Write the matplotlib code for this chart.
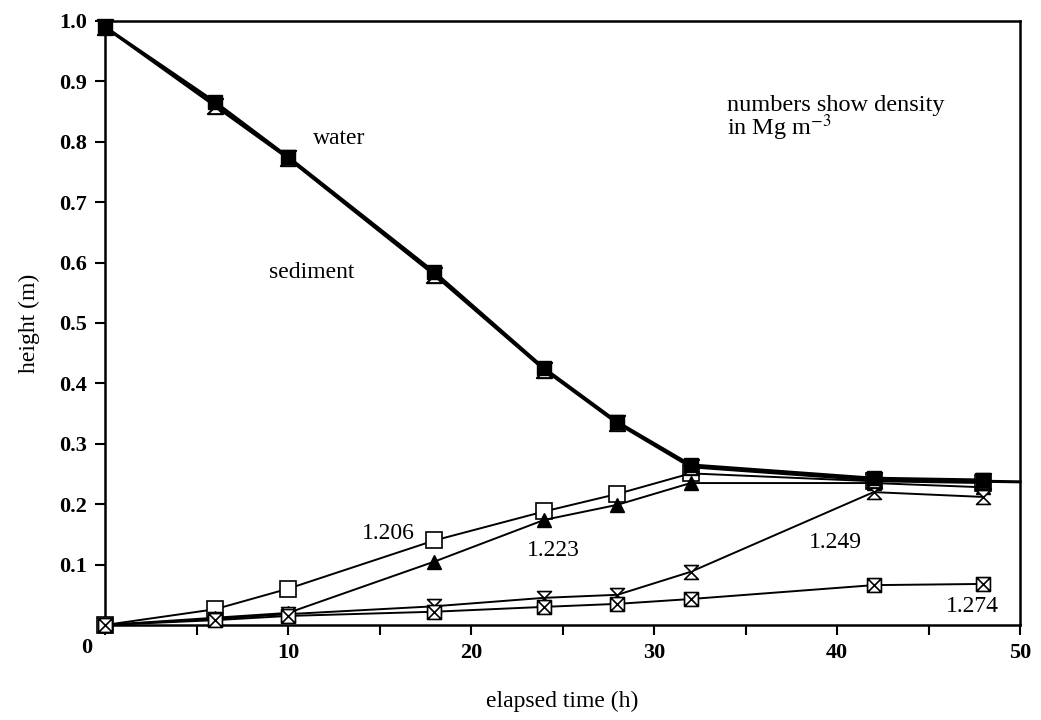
import matplotlib
matplotlib.use("Agg")
import matplotlib.pyplot as plt
from matplotlib.path import Path
import numpy as np

plt.rcParams['font.family'] = ['Liberation Serif', 'DejaVu Serif']
plt.rcParams['mathtext.fontset'] = 'stix'

# ---- data ----
time_water = [0, 6, 10, 18, 24, 28, 32, 42, 48]
water_a = [0.99, 0.866, 0.775, 0.584, 0.425, 0.336, 0.265, 0.243, 0.240]
time_water_b = [0, 6, 10, 18, 24, 28, 32, 42, 48, 50]
water_b = [0.99, 0.860, 0.773, 0.580, 0.423, 0.334, 0.262, 0.240, 0.238, 0.237]

time_sed = [0, 6, 10, 18, 24, 28, 32, 42, 48]
sed_1206 = [0.0, 0.026, 0.060, 0.140, 0.188, 0.217, 0.251, 0.238, 0.235]
sed_1223 = [0.0, 0.012, 0.020, 0.105, 0.174, 0.199, 0.235, 0.235, 0.228]
sed_1249 = [0.0, 0.010, 0.018, 0.031, 0.045, 0.050, 0.088, 0.220, 0.212]
sed_1274 = [0.0, 0.008, 0.015, 0.022, 0.030, 0.035, 0.043, 0.066, 0.068]

x_ticks = [0, 10, 20, 30, 40, 50]
y_ticks = [0.1, 0.2, 0.3, 0.4, 0.5, 0.6, 0.7, 0.8, 0.9, 1.0]

# custom markers
hourglass = Path([(-1, 1), (1, 1), (-1, -1), (1, -1), (-1, 1)],
                 [Path.MOVETO, Path.LINETO, Path.LINETO, Path.LINETO, Path.CLOSEPOLY])
sqx = Path([(-1, -1), (1, -1), (1, 1), (-1, 1), (-1, -1), (1, 1), (1, -1), (-1, 1)],
           [Path.MOVETO, Path.LINETO, Path.LINETO, Path.LINETO, Path.CLOSEPOLY,
            Path.LINETO, Path.MOVETO, Path.LINETO])

fig = plt.figure(figsize=(10.41, 7.2), dpi=100)
ax = fig.add_axes([105/1041, 1-625/720, 915/1041, 604/720])

k = 'black'
ax.plot(time_water_b, water_b, color=k, lw=2.2, marker=hourglass, markersize=11,
        mfc='white', mec=k, mew=1.5, markevery=slice(0, 9), clip_on=False, zorder=4)
ax.plot(time_water, water_a, color=k, lw=2.2, marker='s', markersize=10,
        mfc=k, mec=k, clip_on=False, zorder=5)

ax.plot(time_sed, sed_1206, color=k, lw=1.4, marker='s', markersize=11,
        mfc='white', mec=k, mew=1.2, clip_on=False, zorder=3)
ax.plot(time_sed, sed_1223, color=k, lw=1.4, marker='^', markersize=10,
        mfc=k, mec=k, clip_on=False, zorder=3)
ax.plot(time_sed, sed_1249, color=k, lw=1.4, marker=hourglass, markersize=10,
        mfc='white', mec=k, mew=1.2, clip_on=False, zorder=3)
ax.plot(time_sed, sed_1274, color=k, lw=1.4, marker=sqx, markersize=10,
        mfc='white', mec=k, mew=1.2, clip_on=False, zorder=3)

ax.set_xlim(0, 50)
ax.set_ylim(0, 1.0)
ax.set_xticks(x_ticks)
ax.set_xticklabels([''] + [str(t) for t in x_ticks[1:]])
ax.set_xticks([5, 15, 25, 35, 45], minor=True)
ax.set_yticks(y_ticks)
ax.set_yticklabels([f'{v:.1f}' for v in y_ticks])
ax.tick_params(axis='both', which='both', direction='out', length=7, width=1.5,
               labelsize=16, pad=6)
for lab in ax.get_xticklabels() + ax.get_yticklabels():
    lab.set_fontweight('bold')
for s in ax.spines.values():
    s.set_linewidth(1.8)

ax.annotate('0', xy=(0, 0), xycoords='data', xytext=(-18, -13),
            textcoords='offset pixels', ha='center', va='top',
            fontsize=16, fontweight='bold')

ax.set_xlabel('elapsed time (h)', fontsize=17, labelpad=20)
ax.set_ylabel('height (m)', fontsize=17)
ax.yaxis.set_label_coords(-0.071, 0.5)

fs = 17
ax.text(12.8, 0.806, 'water', fontsize=fs, ha='center', va='center')
ax.text(11.3, 0.583, 'sediment', fontsize=fs, ha='center', va='center')
ax.text(34.0, 0.878, 'numbers show density\nin Mg m$^{-3}$', fontsize=17.5,
        ha='left', va='top', linespacing=0.85)
ax.text(15.5, 0.152, '1.206', fontsize=fs, ha='center', va='center')
ax.text(24.5, 0.124, '1.223', fontsize=fs, ha='center', va='center')
ax.text(39.9, 0.136, '1.249', fontsize=fs, ha='center', va='center')
ax.text(47.4, 0.031, '1.274', fontsize=fs, ha='center', va='center')

fig.savefig('out.png', dpi=100)
